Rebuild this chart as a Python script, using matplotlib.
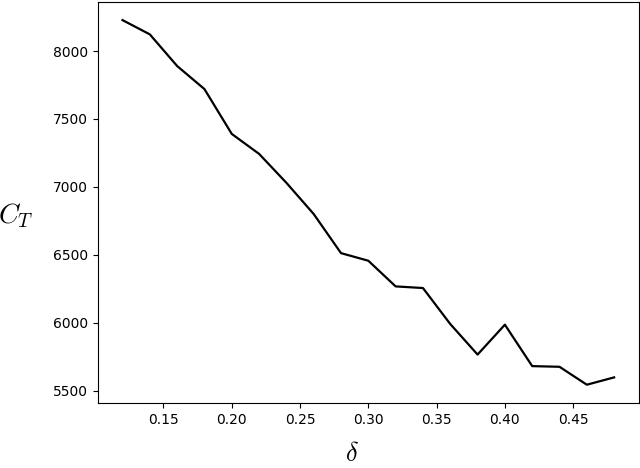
import matplotlib
matplotlib.use("Agg")
import matplotlib.pyplot as plt

plt.rcParams["mathtext.fontset"] = "cm"

delta = [0.12, 0.14, 0.16, 0.18, 0.20, 0.22, 0.24, 0.26, 0.28, 0.30,
         0.32, 0.34, 0.36, 0.38, 0.40, 0.42, 0.44, 0.46, 0.48]
c_t = [8228, 8123, 7890, 7720, 7390, 7243, 7030, 6800, 6512, 6456,
       6267, 6255, 5990, 5765, 5985, 5680, 5675, 5543, 5597]

fig = plt.figure(figsize=(6.4, 4.68), dpi=100)
ax = fig.add_axes([0.153, 0.139, 0.845, 0.857])
ax.plot(delta, c_t, color="black", linewidth=1.6)

ax.set_xticks([0.15, 0.20, 0.25, 0.30, 0.35, 0.40, 0.45])
ax.set_yticks([5500, 6000, 6500, 7000, 7500, 8000])
ax.tick_params(labelsize=10)

ax.set_xlabel(r"$\delta$", fontsize=19, va="center")
ax.xaxis.set_label_coords(0.47, -0.127)
ax.set_ylabel(r"$C_T$", fontsize=20, rotation=0, va="center")
ax.yaxis.set_label_coords(-0.151, 0.466)

fig.savefig("out.png", dpi=100)
